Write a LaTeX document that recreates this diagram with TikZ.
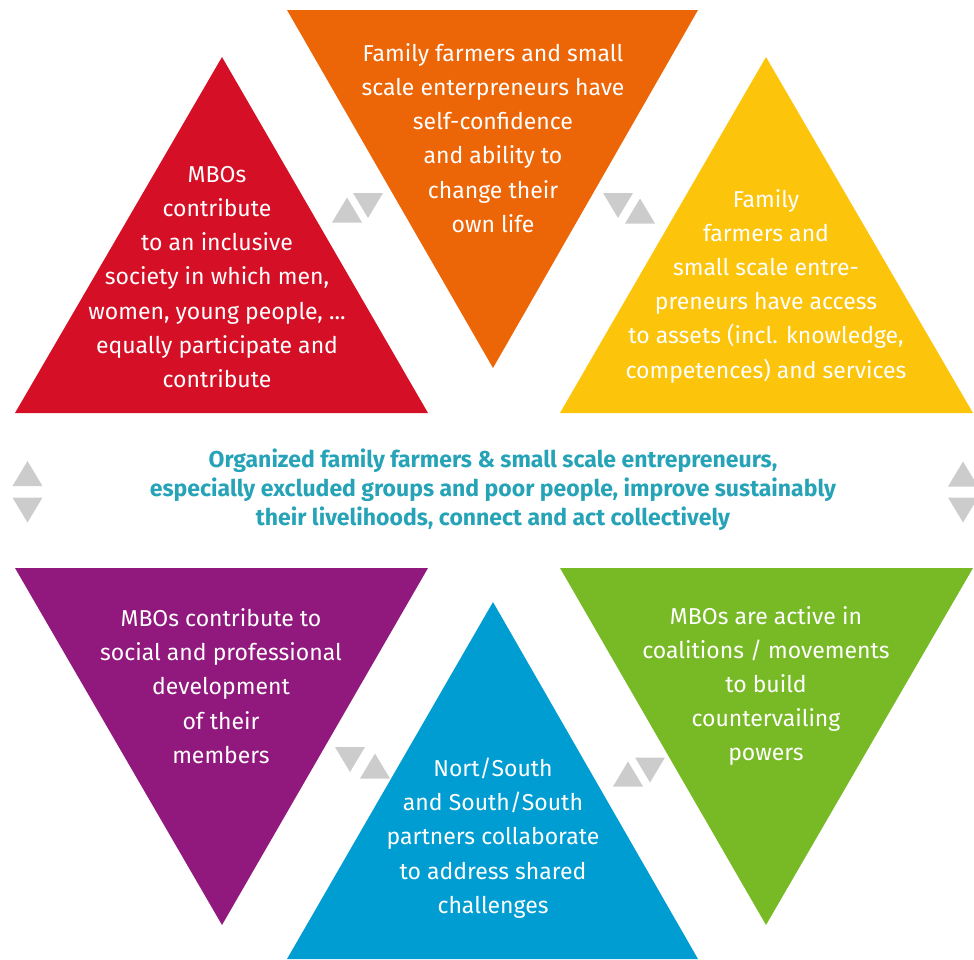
\documentclass[tikz,border=0pt]{standalone}
\usepackage{fontspec}
\setmainfont{Fira Sans}
\definecolor{mboRed}{RGB}{213,16,38}
\definecolor{mboOrange}{RGB}{236,101,6}
\definecolor{mboYellow}{RGB}{252,196,10}
\definecolor{mboPurple}{RGB}{145,24,124}
\definecolor{mboBlue}{RGB}{0,157,210}
\definecolor{mboGreen}{RGB}{120,186,38}
\definecolor{mboTeal}{RGB}{38,163,183}
\definecolor{hintGrey}{RGB}{204,204,204}
% little grey up / down tips, (x,y) is the centre
\newcommand\tipUp[2]{\fill [hintGrey] (#1-15,#2+12.5) -- (#1,#2-12.5) -- (#1+15,#2+12.5) -- cycle;}
\newcommand\tipDown[2]{\fill [hintGrey] (#1-15,#2-12.5) -- (#1,#2+12.5) -- (#1+15,#2-12.5) -- cycle;}
\begin{document}
\begin{tikzpicture}[x=1pt, y=-1pt,
        outcome/.style={text=white, align=center, inner sep=0pt,
            font=\fontsize{23}{34.2}\selectfont},
        goal/.style={text=mboTeal, align=center, inner sep=0pt,
            font=\fontsize{23}{29}\selectfont\bfseries}
    ]
    \useasboundingbox (0,0) rectangle (974,959);
    \clip (0,0) rectangle (974,959);
    % upper row
    \fill [mboRed] (15,413) -- (222,57) -- (428,413) -- cycle;
    \fill [mboOrange] (287,10) -- (698,10) -- (493,368) -- cycle;
    \fill [mboYellow] (560,413) -- (766,57) -- (973,413) -- cycle;
    % lower row
    \fill [mboPurple] (15,568) -- (428,568) -- (222,925) -- cycle;
    \fill [mboBlue] (287,959) -- (493,602) -- (698,959) -- cycle;
    \fill [mboGreen] (560,568) -- (973,568) -- (766,925) -- cycle;

    \tipUp{347}{210} \tipDown{368}{205.5}
    \tipDown{618}{205.5} \tipUp{640}{211}
    \tipUp{27.5}{473.5} \tipDown{27.5}{510}
    \tipUp{963}{474} \tipDown{963}{510}
    \tipDown{350}{759.5} \tipUp{375}{766}
    \tipUp{628}{774} \tipDown{650}{770}

    \node [outcome] (inclusive) at (217,277)
        {MBOs\\contribute\\to an inclusive\\society in which men,\\women, young people, ...\\equally participate and\\contribute};
    \node [outcome] (confidence) at (493,138)
        {Family farmers and small\\scale enterpreneurs have\\self-confidence\\and ability to\\change their\\own life};
    \node [outcome] (access) at (766,286)
        {Family\\farmers and\\small scale entre-\\preneurs have access\\to assets (incl. knowledge,\\competences) and services};
    \node [goal] (livelihoods) at (493,490)
        {Organized family farmers \& small scale entrepreneurs,\\especially excluded groups and poor people, improve sustainably\\their livelihoods, connect and act collectively};
    \node [outcome] (members) at (221,686)
        {MBOs contribute to\\social and professional\\development\\of their\\members};
    \node [outcome] (partners) at (493,838)
        {Nort/South\\and South/South\\partners collaborate\\to address shared\\challenges};
    \node [outcome] (coalitions) at (766,686)
        {MBOs are active in\\coalitions / movements\\to build\\countervailing\\powers};
\end{tikzpicture}
\end{document}
